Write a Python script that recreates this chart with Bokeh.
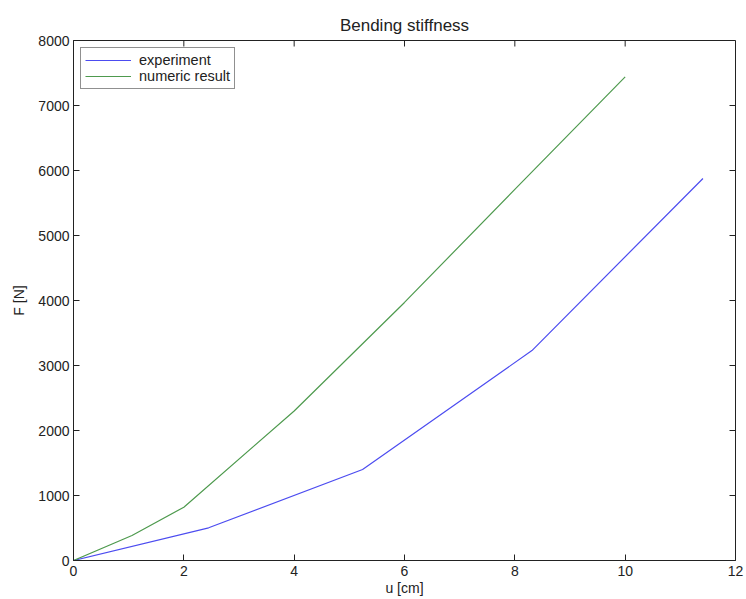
import math
from bokeh.plotting import figure
from bokeh.models import Range1d, Legend, LegendItem, FixedTicker
from bokeh.embed import file_html
from bokeh.resources import INLINE

# Data
exp_u = [0, 2.45, 5.24, 8.31, 11.41]
exp_F = [0, 503, 1400, 3230, 5877]
num_u = [0, 1.06, 2.0, 4.0, 6.0, 8.0, 10.0]
num_F = [0, 385, 820, 2300, 3970, 5710, 7440]
x_ticks = [0, 2, 4, 6, 8, 10, 12]
y_ticks = [0, 1000, 2000, 3000, 4000, 5000, 6000, 7000, 8000]

FONT = "Liberation Sans"
INK = "#222222"

p = figure(width=746, height=599, output_backend="svg", toolbar_location=None,
           x_range=Range1d(x_ticks[0], x_ticks[-1]), y_range=Range1d(y_ticks[0], y_ticks[-1]),
           min_border_left=73, min_border_right=11, min_border_top=40, min_border_bottom=39,
           x_axis_label="u [cm]", y_axis_label="F [N]")
p.title.text = "Bending stiffness"
p.title.align = "center"
p.title.text_font = FONT
p.title.text_font_size = "17px"
p.title.text_font_style = "normal"
p.title.text_color = INK
p.title.standoff = 11

p.grid.visible = False
p.outline_line_color = INK
p.outline_line_width = 1

for ax in [p.xaxis[0], p.yaxis[0]]:
    ax.axis_line_color = INK
    ax.major_tick_line_color = INK
    ax.major_tick_in = 6
    ax.major_tick_out = 0
    ax.minor_tick_line_color = None
    ax.major_label_text_font = FONT
    ax.major_label_text_font_size = "14px"
    ax.major_label_text_color = INK
    ax.axis_label_text_font = FONT
    ax.axis_label_text_font_size = "14px"
    ax.axis_label_text_font_style = "normal"
    ax.axis_label_text_color = INK

p.xaxis[0].ticker = FixedTicker(ticks=x_ticks)
p.yaxis[0].ticker = FixedTicker(ticks=y_ticks)
p.xaxis[0].major_label_standoff = 5
p.xaxis[0].axis_label_standoff = 1
p.yaxis[0].major_label_standoff = 4
p.yaxis[0].axis_label_standoff = 8

# inward ticks on the top and right edges of the box
p.ray(x=x_ticks, y=[y_ticks[-1]] * len(x_ticks), length=6, length_units="screen",
      angle=-math.pi / 2, line_color=INK, line_width=1)
p.ray(x=[x_ticks[-1]] * len(y_ticks), y=y_ticks, length=6, length_units="screen",
      angle=math.pi, line_color=INK, line_width=1)

r1 = p.line(exp_u, exp_F, line_color="#4c4cf0", line_width=1.2)
r2 = p.line(num_u, num_F, line_color="#4e9a4e", line_width=1.2)

legend = Legend(items=[LegendItem(label="experiment", renderers=[r1]),
                       LegendItem(label="numeric result", renderers=[r2])],
                location="top_left")
legend.margin = 7
legend.padding = 4
legend.spacing = 0
legend.glyph_width = 46
legend.glyph_height = 16
legend.label_height = 16
legend.label_standoff = 8
legend.label_text_font = FONT
legend.label_text_font_size = "14.5px"
legend.label_text_color = INK
legend.border_line_color = INK
legend.border_line_width = 1
legend.background_fill_alpha = 1
p.add_layout(legend)

open("out.html", "w").write(file_html(p, INLINE))
